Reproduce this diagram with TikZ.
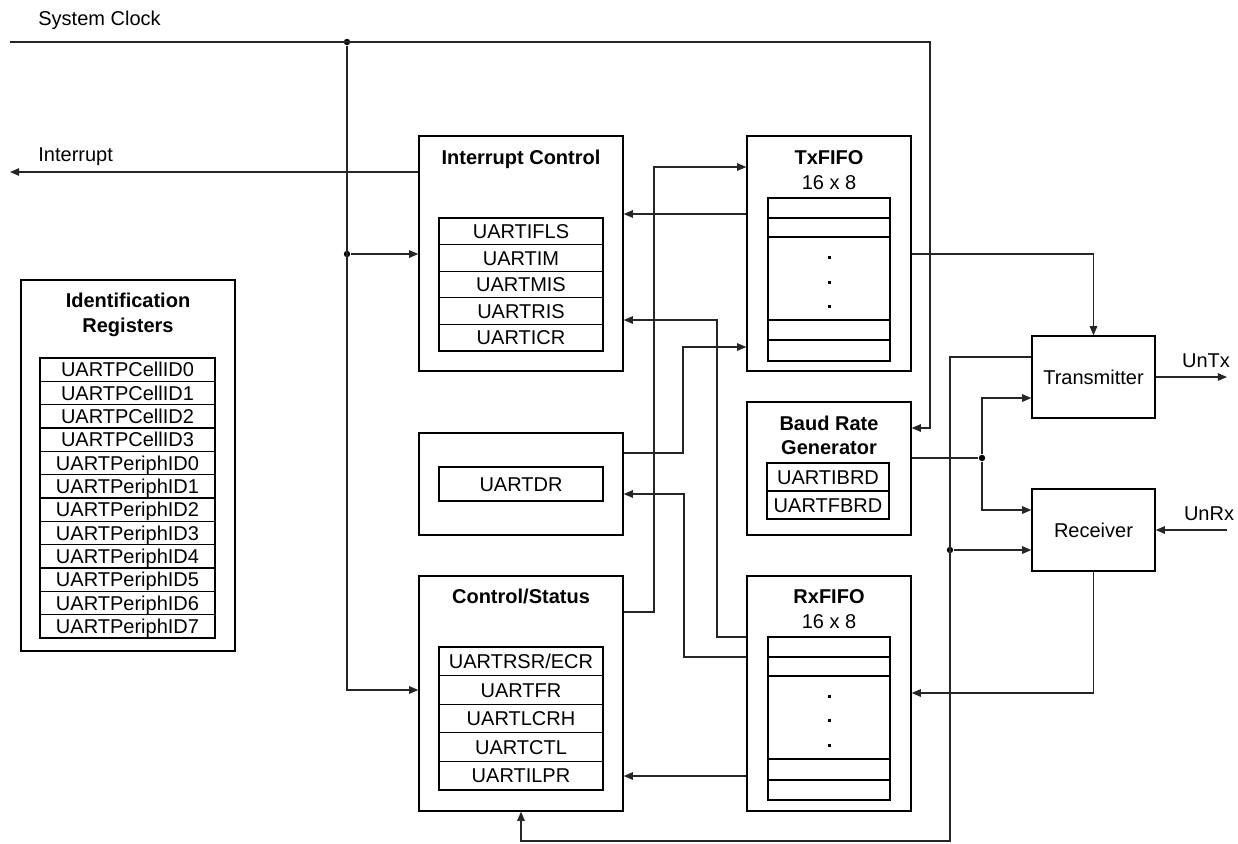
\documentclass[tikz,border=0pt]{standalone}
\usepackage{fontspec}
\setmainfont{Liberation Sans}
\usetikzlibrary{arrows.meta}

\tikzset{
  txt/.style={inner sep=0pt, text height=7.16pt, text depth=0pt},
  blk/.style={draw, line width=0.7pt, inner sep=0pt},
  reg/.style={draw, line width=0.6pt, txt, font=\fontsize{10}{12}\selectfont},
  regline/.style={line width=0.6pt},
  ttl/.style={txt, font=\bfseries\fontsize{10}{12}\selectfont},
  lbl/.style={txt, font=\fontsize{10}{12}\selectfont},
  wire/.style={line width=0.55pt, black!85},
  arr/.style={wire, -{Triangle[length=4.6pt,width=3.8pt]}},
  jdot/.style={circle, fill, inner sep=0pt, minimum size=3.2pt},
  fdot/.style={rectangle, fill, inner sep=0pt, minimum size=1.5pt},
}

\begin{document}
\begin{tikzpicture}[x=0.5pt, y=-0.5pt]
    \useasboundingbox (0,0) rectangle (1238,843);

    % identification registers
    \node[blk, minimum width=107pt, minimum height=185.5pt] (idr) at (128,465.5) {};
    \node[ttl] (idrt1) at (128,300) {Identification};
    \node[ttl] (idrt2) at (128,325) {Registers};
    \foreach \r [count=\i from 0] in {UARTPCellID0,UARTPCellID1,UARTPCellID2,UARTPCellID3,
        UARTPeriphID0,UARTPeriphID1,UARTPeriphID2,UARTPeriphID3,
        UARTPeriphID4,UARTPeriphID5,UARTPeriphID6,UARTPeriphID7}
        \node[reg, minimum width=87.5pt, minimum height=11.67pt] (idr\i) at (127.5,{369.67+23.33*\i}) {\r};

    % interrupt control
    \node[blk, minimum width=102pt, minimum height=117.5pt] (ic) at (521,253.5) {};
    \node[ttl] (ict) at (521,157) {Interrupt Control};
    \foreach \r [count=\i from 0] in {UARTIFLS,UARTIM,UARTMIS,UARTRIS,UARTICR}
        \node[reg, minimum width=82pt, minimum height=13.3pt] (icr\i) at (521,{231.3+26.6*\i}) {\r};

    % data register
    \node[blk, minimum width=102pt, minimum height=51pt] (dr) at (521,484) {};
    \node[reg, minimum width=82pt, minimum height=17pt] (drr) at (521,484) {UARTDR};

    % control/status
    \node[blk, minimum width=102pt, minimum height=117.5pt] (cs) at (521,693.5) {};
    \node[ttl] (cst) at (521,596) {Control/Status};
    \foreach \r [count=\i from 0] in {UARTRSR/ECR,UARTFR,UARTLCRH,UARTCTL,UARTILPR}
        \node[reg, minimum width=82pt, minimum height=14.3pt] (csr\i) at (521,{661.3+28.6*\i}) {\r};

    % transmit fifo
    \node[blk, minimum width=82pt, minimum height=117.5pt] (txf) at (829,253.5) {};
    \node[ttl] (txft) at (829,157) {TxFIFO};
    \node[lbl] (txfs) at (829,182) {16 x 8};
    \node[reg, minimum width=61pt, minimum height=81.5pt] (txq) at (829,279.5) {};
    \foreach \y in {218,237,320,340}
        \draw[regline] (txq.west |- 0,\y) -- (txq.east |- 0,\y);
    \foreach \y [count=\i] in {257,282,306}
        \node[fdot] (txd\i) at (829,\y) {};

    % baud rate generator
    \node[blk, minimum width=82pt, minimum height=66.5pt] (brg) at (829,468.5) {};
    \node[ttl] (brgt1) at (829,423) {Baud Rate};
    \node[ttl] (brgt2) at (829,447) {Generator};
    \node[reg, minimum width=61pt, minimum height=14pt] (brgr0) at (828,477) {UARTIBRD};
    \node[reg, minimum width=61pt, minimum height=14pt] (brgr1) at (828,505) {UARTFBRD};

    % receive fifo
    \node[blk, minimum width=82pt, minimum height=117.5pt] (rxf) at (829,693.5) {};
    \node[ttl] (rxft) at (829,596) {RxFIFO};
    \node[lbl] (rxfs) at (829,621) {16 x 8};
    \node[reg, minimum width=61pt, minimum height=81.5pt] (rxq) at (829,718.5) {};
    \foreach \y in {657,676,759,780}
        \draw[regline] (rxq.west |- 0,\y) -- (rxq.east |- 0,\y);
    \foreach \y [count=\i] in {696,720,745}
        \node[fdot] (rxd\i) at (829,\y) {};

    % transmitter and receiver
    \node[blk, lbl, minimum width=61.5pt, minimum height=41pt] (tx) at (1093.5,377) {Transmitter};
    \node[blk, lbl, minimum width=61.5pt, minimum height=41pt] (rx) at (1093.5,530) {Receiver};

    % system clock
    \coordinate (clkin) at (10,42);
    \node[lbl, anchor=west] (clkl) at (38,18) {System Clock};
    \node[jdot] (clkj) at (347,42) {};
    \node[jdot] (clkj2) at (347,254) {};
    \draw[arr] (clkin) -- (930,42) |- (brg.east |- 0,428);
    \draw[arr] (clkj) |- (cs.west |- 0,690);
    \draw[arr] (clkj2) -- (ic.west |- clkj2);

    % interrupt output
    \coordinate (intout) at (10,172);
    \node[lbl, anchor=west] (intl) at (38,154) {Interrupt};
    \draw[arr] (ic.west |- intout) -- (intout);

    % register and fifo paths
    \draw[arr] (cs.east |- 0,612) -| (654,167) -- (txf.west |- 0,167);
    \draw[arr] (txf.west |- 0,214) -- (ic.east |- 0,214);
    \draw[arr] (rxf.west |- 0,637) -| (717,320) -- (ic.east |- 0,320);
    \draw[arr] (dr.east |- 0,453) -| (683,347) -- (txf.west |- 0,347);
    \draw[arr] (rxf.west |- 0,657) -| (684,494) -- (dr.east |- 0,494);
    \draw[arr] (rxf.west |- 0,776) -- (cs.east |- 0,776);
    \draw[arr] (txf.east |- 0,254) -| (tx.north);

    % baud clock
    \node[jdot] (brgj) at (982,458) {};
    \draw[wire] (brg.east |- brgj) -- (brgj);
    \draw[arr] (brgj) |- (tx.west |- 0,398);
    \draw[arr] (brgj) |- (rx.west |- 0,510);

    % transmitter feedback
    \node[jdot] (txj) at (950,550) {};
    \draw[arr] (tx.west |- 0,357) -| (950,841) -| (cs.south);
    \draw[arr] (txj) -- (rx.west |- txj);
    \draw[arr] (rx.south) |- (rxf.east |- 0,693);

    % pins
    \coordinate (untx) at (1227,377);
    \coordinate (unrx) at (1227,530);
    \draw[arr] (tx.east |- untx) -- (untx);
    \draw[arr] (unrx) -- (rx.east |- unrx);
    \node[lbl] (untxl) at (1206,360) {UnTx};
    \node[lbl] (unrxl) at (1209,513) {UnRx};
\end{tikzpicture}
\end{document}
